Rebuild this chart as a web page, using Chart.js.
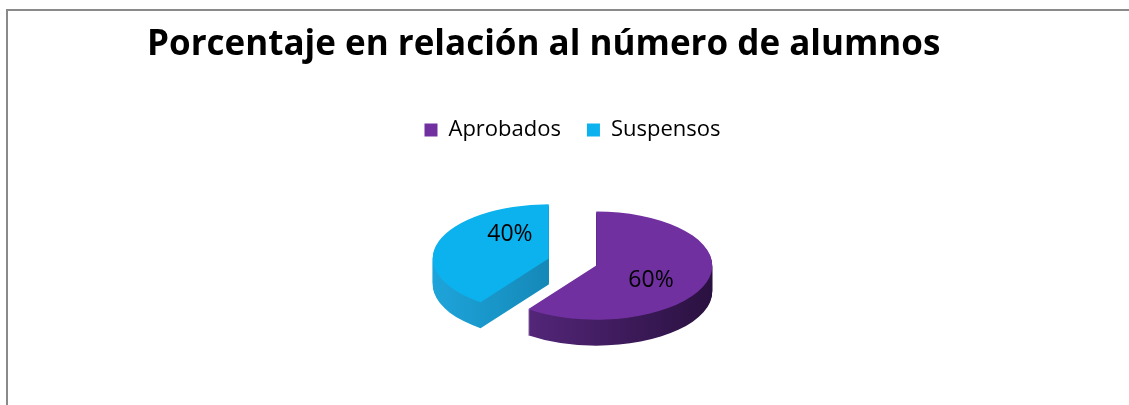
<!DOCTYPE html>
<html>
<head>
<meta charset="utf-8">
<title>Porcentaje en relación al número de alumnos</title>
<script src="https://cdn.jsdelivr.net/npm/chart.js@4.4.0/dist/chart.umd.min.js"></script>
<style>
  html, body { margin: 0; padding: 0; background: #ffffff; }
  #wrap { position: relative; width: 1129px; height: 405px; overflow: hidden; }
  #frame {
    position: absolute; left: 6px; top: 9px; width: 1200px; height: 500px;
    border-left: 2px solid #8a8a8a; border-top: 2px solid #8a8a8a;
  }
  #chart { position: absolute; left: 0; top: 0; }
</style>
</head>
<body>
<div id="wrap">
  <div id="frame"></div>
  <canvas id="chart" width="1129" height="405"></canvas>
</div>
<script>
// Data
const categories = ['Aprobados', 'Suspensos'];
const percentages = [60, 40];
const valueLabels = ['60%', '40%'];

// Colours: top face and side walls (light / dark end of the wall gradient)
const sliceColors = ['#7030a0', '#0bb2ee'];
const wallLight = ['#5e2b88', '#1ea4da'];
const wallDark = ['#2a1140', '#0b6d96'];

// 3D look
const tilt = 0.466;     // vertical squash of the pie
const depth = 26;       // wall height in px
const explode = 25;     // distance each slice is pulled out
const labelAt = [0.56, 0.74];  // where inside the slice the value sits (angle fraction)
const labelRadius = 0.55;

const FONT = '"Open Sans", Lato, Calibri, sans-serif';

function sliceCenter(arc) {
  const mid = (arc.startAngle + arc.endAngle) / 2;
  return {
    x: arc.x + Math.cos(mid) * explode,
    y: arc.y + Math.sin(mid) * explode * tilt
  };
}

// Draws the exploded pie as a flattened 3D pie using the arc elements Chart.js built
const pie3d = {
  id: 'pie3d',
  beforeDatasetsDraw(chart) {
    const ctx = chart.ctx;
    const arcs = chart.getDatasetMeta(0).data;

    // side walls
    arcs.forEach((arc, i) => {
      const c = sliceCenter(arc);
      const r = arc.outerRadius;
      const grad = ctx.createLinearGradient(c.x - r, 0, c.x + r, 0);
      grad.addColorStop(0, wallLight[i]);
      grad.addColorStop(1, wallDark[i]);
      ctx.fillStyle = grad;
      for (let d = depth; d >= 1; d--) {
        ctx.beginPath();
        ctx.moveTo(c.x, c.y + d);
        ctx.ellipse(c.x, c.y + d, r, r * tilt, 0, arc.startAngle, arc.endAngle);
        ctx.closePath();
        ctx.fill();
      }
    });

    // top faces, drawn by the arc elements themselves
    arcs.forEach((arc) => {
      const c = sliceCenter(arc);
      ctx.save();
      ctx.translate(c.x, c.y);
      ctx.scale(1, tilt);
      ctx.translate(-arc.x, -arc.y);
      arc.draw(ctx);
      ctx.restore();
    });
    return false;
  },
  afterDraw(chart) {
    const ctx = chart.ctx;
    const arcs = chart.getDatasetMeta(0).data;
    ctx.save();
    ctx.fillStyle = '#000000';
    ctx.font = '23px ' + FONT;
    ctx.textAlign = 'center';
    ctx.textBaseline = 'middle';
    arcs.forEach((arc, i) => {
      const c = sliceCenter(arc);
      const a = arc.startAngle + labelAt[i] * (arc.endAngle - arc.startAngle);
      const r = arc.outerRadius * labelRadius;
      ctx.fillText(valueLabels[i], c.x + Math.cos(a) * r, c.y + Math.sin(a) * r * tilt);
    });
    ctx.restore();
  }
};

new Chart(document.getElementById('chart'), {
  type: 'pie',
  data: {
    labels: categories,
    datasets: [{
      data: percentages,
      backgroundColor: sliceColors,
      borderWidth: 0,
      radius: 116
    }]
  },
  options: {
    responsive: false,
    animation: false,
    events: [],
    layout: {
      padding: { left: 147, right: 131, top: 14, bottom: 32 }
    },
    plugins: {
      title: {
        display: true,
        text: 'Porcentaje en relación al número de alumnos',
        align: 'start',
        color: '#000000',
        font: { family: FONT, size: 35, weight: 'bold' },
        padding: { top: 10, bottom: 27 }
      },
      legend: {
        position: 'top',
        labels: {
          color: '#000000',
          font: { family: FONT, size: 22 },
          boxWidth: 13,
          boxHeight: 13,
          padding: 26
        }
      },
      tooltip: { enabled: false }
    }
  },
  plugins: [pie3d]
});
</script>
</body>
</html>
